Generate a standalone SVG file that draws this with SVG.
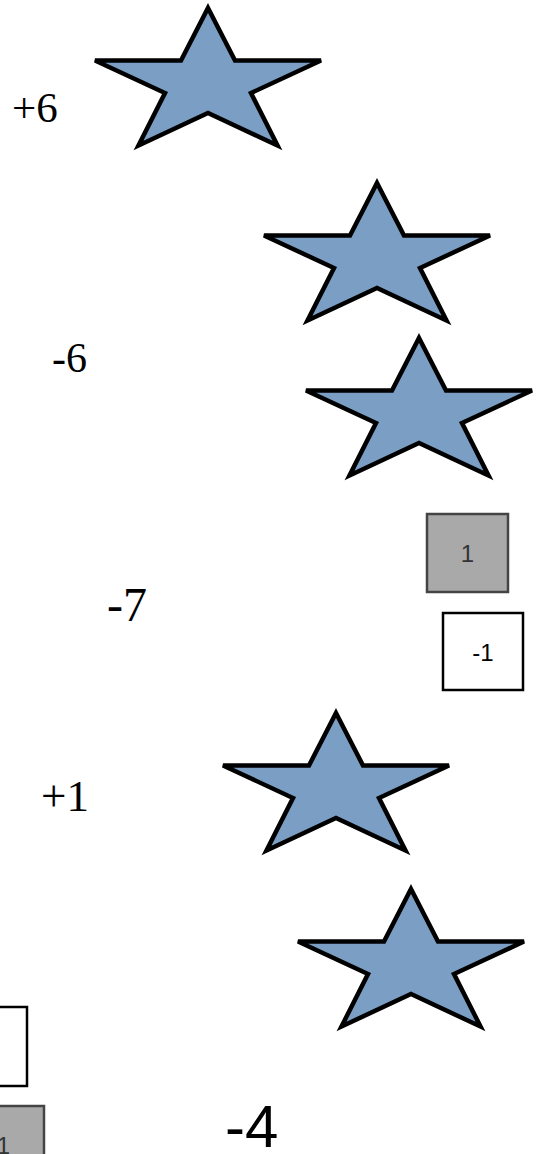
<svg xmlns="http://www.w3.org/2000/svg" width="541" height="1154" viewBox="0 0 541 1154">
<defs>
<style>
.star{fill:#7b9fc4;stroke:#000;stroke-width:4.5;stroke-linejoin:miter;stroke-miterlimit:4}
.lbl{font-family:"Liberation Serif","Times New Roman",serif;fill:#000}
.sans{font-family:"Liberation Sans",Arial,sans-serif}
.gbox{fill:#a9a9a9;stroke:#444;stroke-width:2.5}
.wbox{fill:#fff;stroke:#000;stroke-width:2.5}
.btxt{font-family:"Liberation Sans",Arial,sans-serif;text-anchor:middle}
</style>
<polygon id="starshape" points="0,-76 27,-23.5 113,-23.5 43,9 69.5,61.5 0,29 -69.5,61.5 -43,9 -113,-23.5 -27,-23.5"/>
</defs>
<g id="connectors"></g>
<g id="star1"><use href="#starshape" class="star" transform="translate(208,84)"/></g>
<g id="star2"><use href="#starshape" class="star" transform="translate(377,259)"/></g>
<g id="star3"><use href="#starshape" class="star" transform="translate(419,414)"/></g>
<g id="star4"><use href="#starshape" class="star" transform="translate(336,789)"/></g>
<g id="star5"><use href="#starshape" class="star" transform="translate(411,965)"/></g>
<g id="label-p6"><text class="lbl" x="12" y="122" font-size="43">+6</text></g>
<g id="label-m6"><text class="lbl" x="52" y="372" font-size="42">-6</text></g>
<g id="label-m7"><text class="lbl" x="107" y="621" font-size="48">-7</text></g>
<g id="label-p1"><text class="lbl" x="41" y="811" font-size="45">+1</text></g>
<g id="label-m4"><text class="lbl sans" x="225" y="1147" font-size="60">-4</text></g>
<g id="box-g1"><rect class="gbox" x="427" y="514" width="81" height="78"/><text class="btxt" x="467.5" y="562" font-size="24" fill="#333">1</text></g>
<g id="box-w1"><rect class="wbox" x="443" y="613" width="80" height="77"/><text class="btxt" x="483" y="661" font-size="24" fill="#000">-1</text></g>
<g id="box-w2"><rect class="wbox" x="-54" y="1007" width="81" height="79"/></g>
<g id="box-g2"><rect class="gbox" x="-37" y="1106" width="81" height="80"/><text class="btxt" x="3.5" y="1154" font-size="24" fill="#333">1</text></g>
</svg>
